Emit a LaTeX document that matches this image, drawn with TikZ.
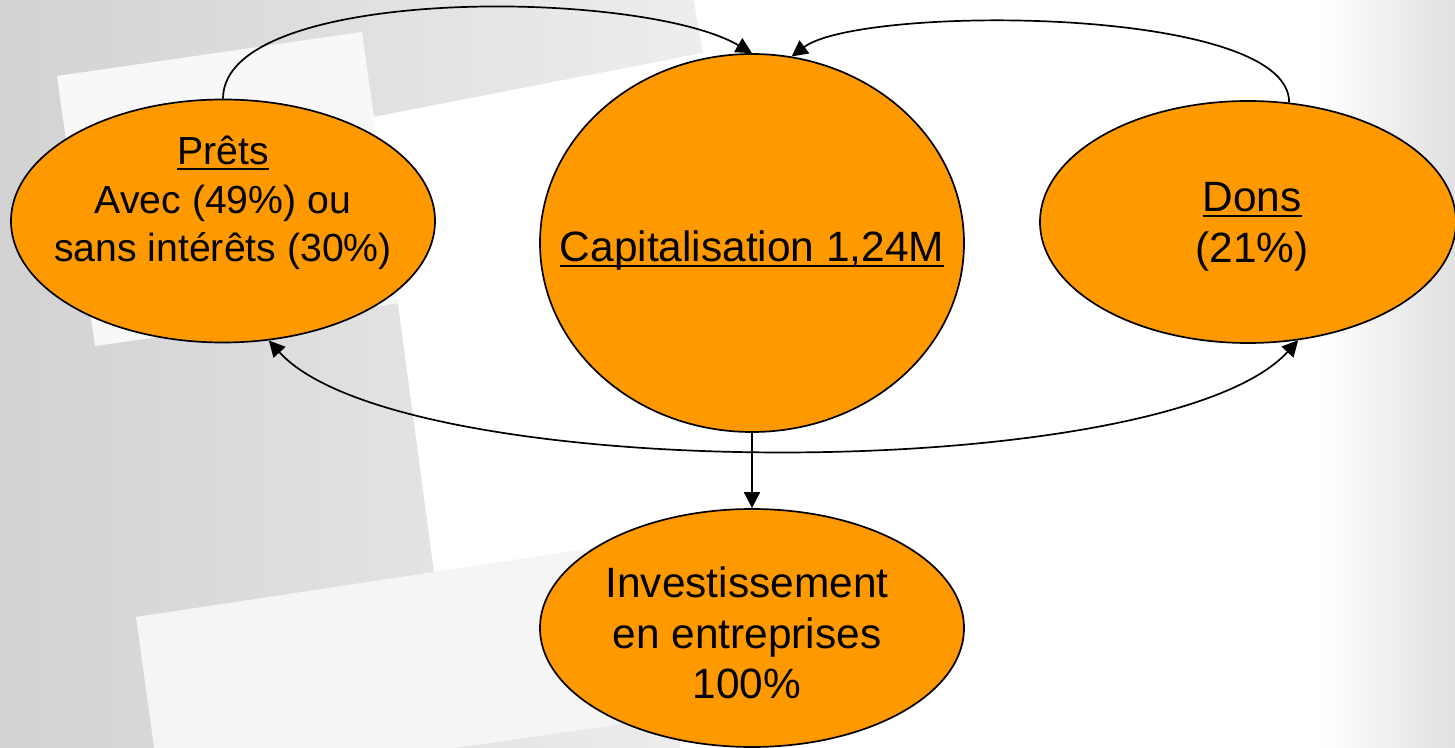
\documentclass[tikz,border=0pt]{standalone}
\usepackage{fontspec}
\setmainfont{Liberation Sans}
\usetikzlibrary{shapes.geometric,arrows.meta}
\definecolor{orng}{HTML}{FF9900}
\definecolor{bgzero}{HTML}{D2D2D2}
\definecolor{bgone}{HTML}{F0F0F0}
\definecolor{bgA}{HTML}{F8F8F8}
\definecolor{bgC}{HTML}{F5F5F5}
\definecolor{bgR}{HTML}{E0E0E0}
\newcommand\ulx[1]{\sbox0{#1}\rlap{\rule[-2.6pt]{\wd0}{1pt}}\usebox0}
\begin{document}
\begin{tikzpicture}[x=0.5pt,y=-0.5pt,
  bubble/.style={ellipse, draw=black, line width=0.85pt, fill=orng, inner sep=0pt},
  txt/.style={align=center, font=\fontsize{21.2}{25.3}\selectfont, inner sep=0pt},
  link/.style={line width=0.85pt, -{Triangle[length=8pt,width=8pt]}},
  dlink/.style={line width=0.85pt, {Triangle[length=8pt,width=8pt]}-{Triangle[length=8pt,width=8pt]}}]
\useasboundingbox (0,0) rectangle (1455,748);
% background
\shade[left color=bgzero, right color=bgone] (-1,-1) rectangle (761,749);
\fill[bgone] (759,-1) rectangle (1456,749);
\fill[bgA] (57,76) -- (362,32) -- (400,303) -- (95,346) -- cycle;
\fill[bgC] (136,617) -- (434,572) -- (700,532) -- (700,713) -- (160,790) -- cycle;
\fill[white] (373,117) -- (703,53) -- (692,-10) -- (1500,-10) -- (1500,760) -- (680,760) -- (680,535) -- (434,572) -- cycle;
\shade[left color=white, right color=bgR] (1320,-1) rectangle (1456,749);
% nodes
\node[bubble, minimum width=212pt, minimum height=121.5pt] (prets) at (223,221) {};
\node[bubble, minimum width=212pt, minimum height=189pt] (cap) at (752,243) {};
\node[bubble, minimum width=208pt, minimum height=121pt] (dons) at (1248,222) {};
\node[bubble, minimum width=212pt, minimum height=119pt] (inv) at (752,628) {};
\node[txt, font=\fontsize{19.6}{24.3}\selectfont] (pretsT) at (223,203) {\ulx{Prêts}\\Avec (49\%) ou\\sans intérêts (30\%)};
\node[txt] (capT) at (752,251) {\ulx{Capitalisation 1,24M}};
\node[txt] (donsT) at (1252,227) {\ulx{Dons}\\(21\%)};
\node[txt] (invT) at (747,633) {Investissement\\en entreprises\\100\%};
% connectors
\draw[link] (prets.north) .. controls (223,-15) and (640,-12) .. (cap.north);
\draw[link] (dons.71) .. controls (1290,5) and (860,5) .. (cap.78);
\draw[link] (cap.south) -- (inv.north);
\draw[dlink] (prets.-69) .. controls (400,486) and (1165,486) .. (dons.-67);
\end{tikzpicture}
\end{document}
